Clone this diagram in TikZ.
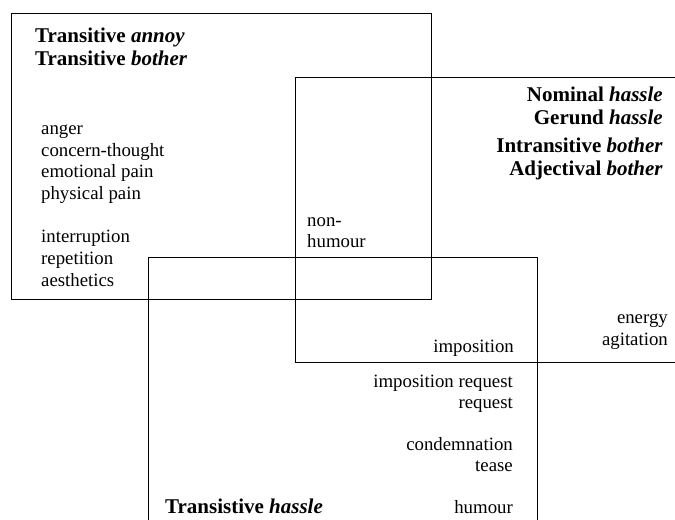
\documentclass[tikz,border=0pt]{standalone}
\usepackage{fontspec}
\setmainfont{Liberation Serif}
\begin{document}
\begin{tikzpicture}[x=1bp,y=-1bp,
  box/.style={draw=black,line width=0.9bp},
  txt/.style={inner sep=0pt,font=\fontsize{18.8bp}{21.5bp}\selectfont},
  head/.style={inner sep=0pt,font=\fontsize{21bp}{23bp}\selectfont\bfseries}]
\useasboundingbox (0,0) rectangle (675,520);
\begin{scope}
\clip (0,0) rectangle (675,520);
\draw[box] (11,13) rectangle (431,299);
\draw[box] (295,77) rectangle (690,362);
\draw[box] (148,257) rectangle (537,540);
\end{scope}
% box A texts
\node[head,anchor=base west] (ta) at (35,43) {Transitive \textit{annoy}};
\node[head,anchor=base west] (tb) at (35,66) {Transitive \textit{bother}};
\node[txt,anchor=base west] (a1) at (41,135) {anger};
\node[txt,anchor=base west] (a2) at (41,156.5) {concern-thought};
\node[txt,anchor=base west] (a3) at (41,178) {emotional pain};
\node[txt,anchor=base west] (a4) at (41,199.5) {physical pain};
\node[txt,anchor=base west] (a5) at (41,243) {interruption};
\node[txt,anchor=base west] (a6) at (41,264.5) {repetition};
\node[txt,anchor=base west] (a7) at (41,286) {aesthetics};
% box B texts
\node[head,anchor=base east] (nh) at (663,102) {Nominal \textit{hassle}};
\node[head,anchor=base east] (gh) at (663,125) {Gerund \textit{hassle}};
\node[head,anchor=base east] (ib) at (663,153) {Intransitive \textit{bother}};
\node[head,anchor=base east] (ab) at (663,176) {Adjectival \textit{bother}};
\node[txt,anchor=base west] (n1) at (307,227) {non-};
\node[txt,anchor=base west] (n2) at (307,248) {humour};
\node[txt,anchor=base east] (e1) at (668,323) {energy};
\node[txt,anchor=base east] (e2) at (668,345) {agitation};
\node[txt,anchor=base east] (im) at (514,352) {imposition};
% box C texts
\node[txt,anchor=base east] (c1) at (513,387) {imposition request};
\node[txt,anchor=base east] (c2) at (513,408.5) {request};
\node[txt,anchor=base east] (c3) at (513,450) {condemnation};
\node[txt,anchor=base east] (c4) at (513,471.5) {tease};
\node[txt,anchor=base east] (c5) at (513,513) {humour};
\node[head,anchor=base west] (th) at (165,513) {Transistive \textit{hassle}};
\end{tikzpicture}
\end{document}
